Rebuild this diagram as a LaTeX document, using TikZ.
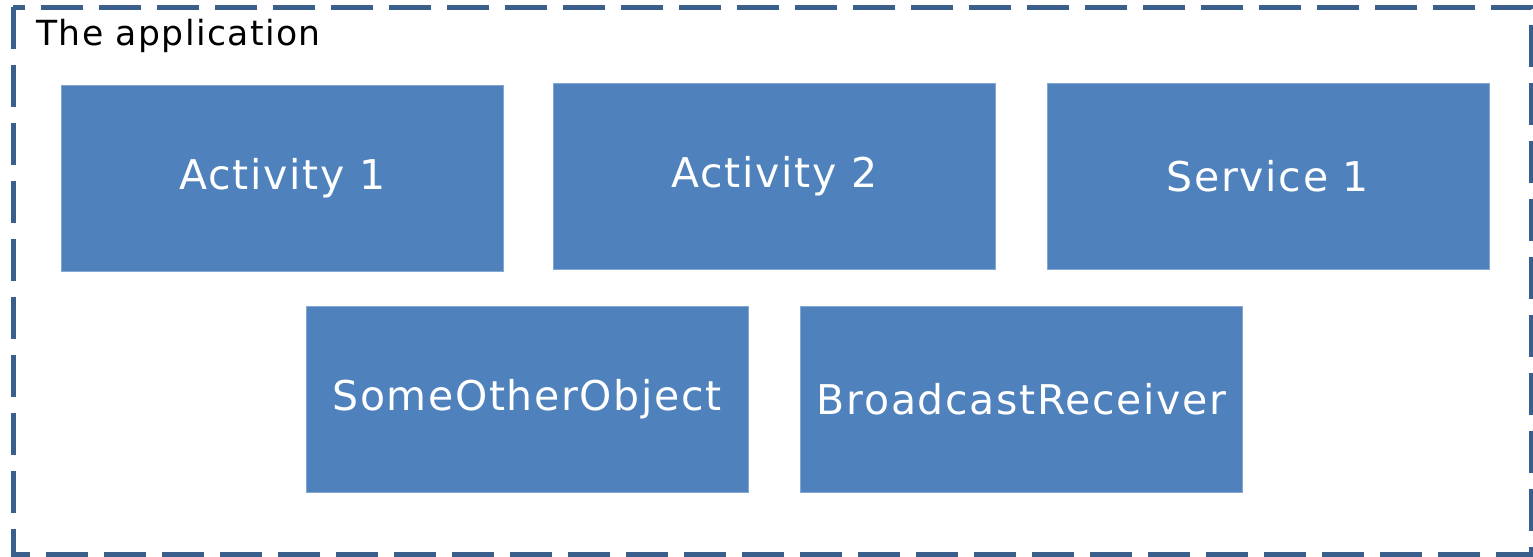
\documentclass[tikz,border=0pt]{standalone}
\usepackage{fontspec}
\setmainfont{DejaVu Sans}
\definecolor{boxblue}{HTML}{4F81BD}
\definecolor{frameblue}{HTML}{3A5F8B}

\begin{document}
\begin{tikzpicture}[x=0.5pt,y=-0.5pt,
    part/.style={fill=boxblue,draw=boxblue!70!white,line width=0.5pt,text=white,
      minimum width=221pt,minimum height=93pt,inner sep=0pt,
      font=\fontsize{20.5}{24}\selectfont\addfontfeature{LetterSpace=4}}]
  \useasboundingbox (0,0) rectangle (1533,557);
  \draw[frameblue,line width=2.5pt,dash pattern=on 21pt off 8pt] (13,7) rectangle (1531,554);
  \node[anchor=base west,inner sep=0pt,font=\fontsize{17.3}{20}\selectfont\addfontfeature{LetterSpace=4}] (title) at (36,46) {The application};

  \node[part] (act1) at (282.5,178) {Activity 1};
  \node[part] (act2) at (774.5,176) {Activity 2};
  \node[part] (serv1) at (1268,176) {Service 1};
  \node[part] (other) at (527,399) {SomeOtherObject};
  \node[part] (recv) at (1021.5,399) {BroadcastReceiver};
\end{tikzpicture}
\end{document}
